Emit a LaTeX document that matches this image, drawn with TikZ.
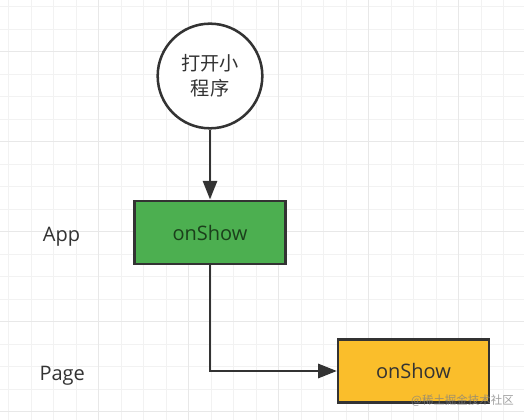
\documentclass[tikz,border=0pt]{standalone}
\usepackage{fontspec}
\setmainfont{Open Sans}
\newfontfamily\cjk{Noto Sans CJK SC}
\usetikzlibrary{arrows.meta}
\definecolor{gridminor}{HTML}{F2F2F2}
\definecolor{gridmajor}{HTML}{E8E8E8}
\definecolor{linegray}{HTML}{333333}
\definecolor{appgreen}{HTML}{4CAF50}
\definecolor{pageyellow}{HTML}{FABE2B}
\definecolor{greentext}{HTML}{1B3F1B}
\tikzset{
  flow/.style={draw=linegray, line width=2pt, -{Triangle[length=14pt, width=10.5pt]}},
  hook/.style={draw=linegray, line width=1.9pt, text=greentext, minimum width=113pt, minimum height=47.5pt, font=\fontsize{15}{18}\selectfont},
  lane/.style={text=linegray, inner sep=0pt, font=\fontsize{15}{18}\selectfont}
}
\begin{document}
\begin{tikzpicture}[x=0.75pt, y=-0.75pt]
\useasboundingbox[fill=white] (0,0) rectangle (524,420);
% grid
\foreach \i in {0,...,22} \draw[gridminor, line width=0.75pt] (8.5+22.5*\i,0) -- (8.5+22.5*\i,420);
\foreach \j in {0,...,18} \draw[gridminor, line width=0.75pt] (0,6.7+22.5*\j) -- (524,6.7+22.5*\j);
\foreach \i in {4,8,12,16,20} \draw[gridmajor, line width=1pt] (8.5+22.5*\i,0) -- (8.5+22.5*\i,420);
\foreach \j in {2,6,10,14,18} \draw[gridmajor, line width=1pt] (0,6.7+22.5*\j) -- (524,6.7+22.5*\j);
% nodes
\node[circle, draw=linegray, line width=1.9pt, fill=white, minimum size=78.5pt, align=center, text=linegray, font=\cjk\fontsize{14.4}{18.75}\selectfont] (start) at (210,76) {打开小\\程序};
\node[hook, fill=appgreen] (appshow) at (210,232.5) {onShow};
\node[hook, fill=pageyellow, text=linegray] (pageshow) at (413.5,371) {onShow};
\node[lane, anchor=base west] (app) at (42.7,242) {App};
\node[lane, anchor=base west] (page) at (39.3,380.7) {Page};
% connectors
\draw[flow] (start) -- (appshow);
\draw[flow] (appshow.south) |- (pageshow.west);
% watermark
\node[text=gray, opacity=0.75, inner sep=0pt, font=\cjk\fontsize{8.6}{10}\selectfont] (mark) at (462.5,401) {@稀土掘金技术社区};
\end{tikzpicture}
\end{document}
